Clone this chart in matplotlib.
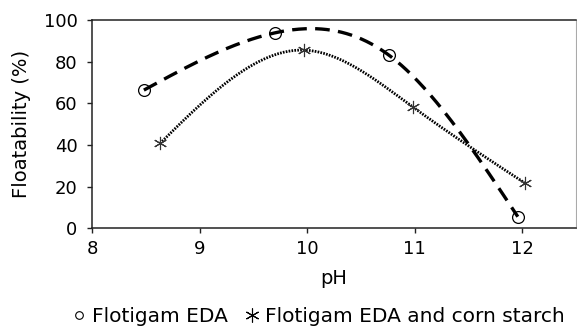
import numpy as np
import matplotlib.pyplot as plt
from matplotlib.lines import Line2D

# data
ph_eda = [8.48, 9.70, 10.76, 11.96]
flot_eda = [66.4, 93.9, 83.2, 5.6]
ph_starch = [8.63, 9.97, 10.98, 12.03]
flot_starch = [40.8, 85.6, 58.4, 21.6]

plt.rcParams["font.family"] = ["DejaVu Sans"]


def smooth(x, y, n=300):
    # natural cubic spline through the points
    x = np.asarray(x, float)
    y = np.asarray(y, float)
    h = np.diff(x)
    k = len(x)
    A = np.zeros((k, k))
    r = np.zeros(k)
    A[0, 0] = A[-1, -1] = 1
    for i in range(1, k - 1):
        A[i, i - 1] = h[i - 1]
        A[i, i] = 2 * (h[i - 1] + h[i])
        A[i, i + 1] = h[i]
        r[i] = 6 * ((y[i + 1] - y[i]) / h[i] - (y[i] - y[i - 1]) / h[i - 1])
    M = np.linalg.solve(A, r)
    xs = np.linspace(x[0], x[-1], n)
    j = np.clip(np.searchsorted(x, xs) - 1, 0, k - 2)
    a = x[j + 1] - xs
    b = xs - x[j]
    hj = h[j]
    ys = (M[j] * a**3 + M[j + 1] * b**3) / (6 * hj) \
        + (y[j] / hj - M[j] * hj / 6) * a + (y[j + 1] / hj - M[j + 1] * hj / 6) * b
    return xs, ys


fig = plt.figure(figsize=(5.77, 3.3), dpi=100)
ax = fig.add_axes([0.16, 0.308, 0.838, 0.631])

xs, ys = smooth(ph_eda, flot_eda)
ax.plot(xs, ys, color="black", lw=2.4, ls=(0, (4.4, 2.5)))
xs, ys = smooth(ph_starch, flot_starch)
ax.plot(xs, ys, color="black", lw=2.0, ls=(0, (0.6, 0.45)))

ax.plot(ph_eda, flot_eda, "o", ms=8.5, mfc="none", mec="black", mew=0.9)
ax.plot(ph_starch, flot_starch, ls="none", marker=(6, 2, 0), ms=9.5,
        mec="#333333", mew=0.8)

ax.set_xlim(8, 12.5)
ax.set_ylim(0, 100)
ax.set_xticks([8, 9, 10, 11, 12])
ax.set_yticks([0, 20, 40, 60, 80, 100])
ax.tick_params(labelsize=13, length=3.6, width=1, color="#222222")
ax.tick_params(axis="x", pad=5)
ax.tick_params(axis="y", pad=7)
for s in ["left", "bottom", "top"]:
    ax.spines[s].set_linewidth(1.1)
    ax.spines[s].set_color("#222222")
ax.spines["right"].set_color("#aaaaaa")
ax.set_xlabel("pH", fontsize=14, labelpad=8)
ax.set_ylabel("Floatability (%)", fontsize=14, labelpad=9)

handles = [
    Line2D([], [], ls="none", marker="o", ms=5.5, mfc="none", mec="black", mew=0.8),
    Line2D([], [], ls="none", marker=(6, 2, 0), ms=10, mec="black", mew=0.8),
]
fig.legend(handles, ["Flotigam EDA", "Flotigam EDA and corn starch"],
           loc="center", bbox_to_anchor=(0.552, 0.040), ncol=2, frameon=False,
           fontsize=14.5, handlelength=0.6, handletextpad=0.35, columnspacing=0.9,
           borderpad=0, borderaxespad=0)

fig.savefig("out.png", dpi=100)
